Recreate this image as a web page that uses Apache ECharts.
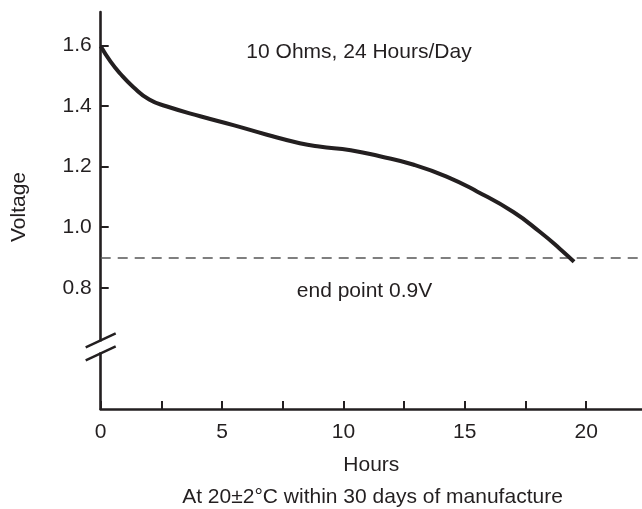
<!DOCTYPE html>
<html>
<head>
<meta charset="utf-8">
<script src="https://cdn.jsdelivr.net/npm/echarts@6/dist/echarts.min.js"></script>
<style>
html,body{margin:0;padding:0;background:#fff;}
#chart{width:642px;height:509px;}
</style>
</head>
<body>
<div id="chart"></div>
<script>
// Data
const hours   = [0, 0.4, 0.8, 1.35, 2.0, 2.7, 4.1, 5.5, 6.85, 8.2, 9.0, 10.3, 11.5, 12.9, 14.25, 15.5, 17.0, 18.1, 18.9, 19.5];
const voltage = [1.597, 1.547, 1.507, 1.462, 1.421, 1.399, 1.366, 1.336, 1.305, 1.277, 1.266, 1.254, 1.234, 1.206, 1.167, 1.118, 1.050, 0.984, 0.930, 0.886];
const xTicks = [0, 2.5, 5, 7.5, 10, 12.5, 15, 17.5, 20];
const xLabels = [0, 5, 10, 15, 20];
const yTicks = [0.8, 1.0, 1.2, 1.4, 1.6];
const endPoint = 0.9;
const breakValue = 0.6;
const titleText = '10 Ohms, 24 Hours/Day';
const endText = 'end point 0.9V';
const xName = 'Hours';
const yName = 'Voltage';
const noteText = 'At 20\u00b12\u00b0C within 30 days of manufacture';

const ink = '#231f20';
const font = "'Liberation Sans', Arial, Helvetica, sans-serif";
const fs = 21;

const chart = echarts.init(document.getElementById('chart'), null, {renderer: 'canvas'});
const data = hours.map((h, i) => [h, voltage[i]]);

chart.setOption({
  animation: false,
  backgroundColor: '#fff',
  grid: {left: 100.7, right: 0, top: 12, bottom: 100, containLabel: false},
  xAxis: {
    type: 'value', min: 0, max: 22.3,
    name: xName, nameLocation: 'middle', nameGap: 46,
    nameTextStyle: {color: ink, fontSize: fs, fontFamily: font},
    axisLine: {show: true, lineStyle: {color: ink, width: 2.6}},
    axisTick: {show: true, inside: true, length: 8, lineStyle: {color: ink, width: 2}, customValues: xTicks},
    axisLabel: {show: true, color: ink, fontSize: fs, fontFamily: font, margin: 13, customValues: xLabels, formatter: v => String(v)},
    splitLine: {show: false}
  },
  yAxis: {
    type: 'value', min: 0.4, max: 1.71,
    name: yName, nameLocation: 'middle', nameGap: 71, nameRotate: 90,
    nameTextStyle: {color: ink, fontSize: fs, fontFamily: font, padding: [0, 0, 0, 7]},
    axisLine: {show: true, lineStyle: {color: ink, width: 2.6}},
    axisTick: {show: true, inside: true, length: 8, lineStyle: {color: ink, width: 2}, customValues: yTicks},
    axisLabel: {show: true, color: ink, fontSize: fs, fontFamily: font, margin: 9, customValues: yTicks, formatter: v => v.toFixed(1)},
    splitLine: {show: false}
  },
  series: [{
    type: 'line',
    data: data,
    smooth: 0.5,
    showSymbol: false,
    lineStyle: {color: ink, width: 4},
    z: 5,
    markLine: {
      silent: true,
      symbol: ['none', 'none'],
      label: {show: false},
      lineStyle: {color: '#555', width: 1.5, type: [10, 7]},
      data: [{yAxis: endPoint}]
    }
  }]
});

function drawExtras() {
  const p = chart.convertToPixel({gridIndex: 0}, [0, breakValue]);
  const cx = p[0], cy = p[1];
  const s = [15, 7];
  chart.setOption({
    graphic: [
      {type: 'rect', shape: {x: cx - 3, y: cy - 7, width: 6, height: 11}, style: {fill: '#fff'}, z: 50},
      {type: 'line', shape: {x1: cx - s[0], y1: cy - 8 + s[1], x2: cx + s[0], y2: cy - 8 - s[1]}, style: {stroke: ink, lineWidth: 2.4}, z: 51},
      {type: 'line', shape: {x1: cx - s[0], y1: cy + 5 + s[1], x2: cx + s[0], y2: cy + 5 - s[1]}, style: {stroke: ink, lineWidth: 2.4}, z: 51},
      {type: 'text', x: 359, y: 52.5, style: {text: titleText, fill: ink, font: fs + 'px ' + font, textAlign: 'center', textVerticalAlign: 'middle'}, z: 60},
      {type: 'text', x: 364.5, y: 291.5, style: {text: endText, fill: ink, font: fs + 'px ' + font, textAlign: 'center', textVerticalAlign: 'middle'}, z: 60},
      {type: 'text', x: 372.5, y: 497.5, style: {text: noteText, fill: ink, font: fs + 'px ' + font, textAlign: 'center', textVerticalAlign: 'middle'}, z: 60}
    ]
  });
}
drawExtras();
</script>
</body>
</html>
